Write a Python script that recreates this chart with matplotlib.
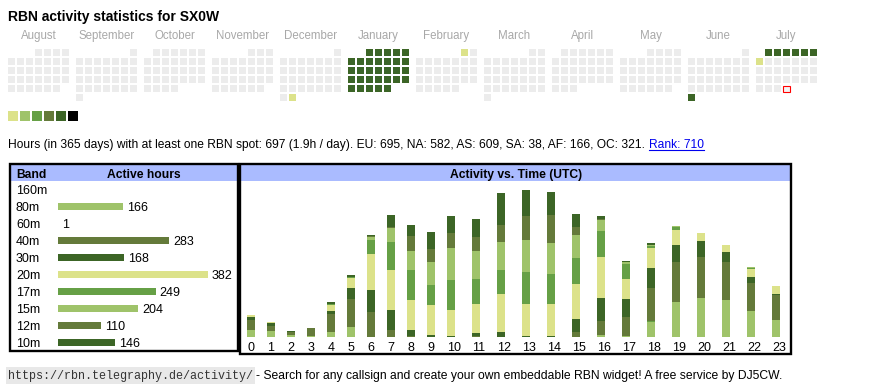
import numpy as np
import pandas as pd
import matplotlib.pyplot as plt
from matplotlib.patches import Rectangle

plt.rcParams['font.family'] = ['Liberation Sans', 'DejaVu Sans']

# ---- data ----
callsign = "SX0W"
months = ["August", "September", "October", "November", "December", "January",
          "February", "March", "April", "May", "June", "July"]
first_day = "2024-08-01"
last_day = "2025-07-31"
today = "2025-07-31"
level1_days = ["2024-12-31", "2025-02-01", "2025-07-07"]
level5_spans = [("2025-01-01", "2025-01-31"), ("2025-06-30", "2025-07-06")]

level_colors = ['#dce28a', '#9fc36a', '#66a046', '#647a3a', '#3c6526', '#000000']
empty_color = '#ececec'

total_hours = 697
per_day = 1.9
continents = [("EU", 695), ("NA", 582), ("AS", 609), ("SA", 38), ("AF", 166), ("OC", 321)]
rank = 710

bands = ["160m", "80m", "60m", "40m", "30m", "20m", "17m", "15m", "12m", "10m"]
band_hours = [0, 166, 1, 283, 168, 382, 249, 204, 110, 146]
band_colors = ['#dce28a', '#9fc36a', '#66a046', '#647a3a', '#3c6526',
               '#dce28a', '#66a046', '#9fc36a', '#647a3a', '#3c6526']

hours = list(range(24))
by_hour = {
    "160m": [0, 0, 0, 0, 0, 0, 0, 0, 0, 0, 0, 0, 0, 0, 0, 0, 0, 0, 0, 0, 0, 0, 0, 0],
    "80m":  [6, 5, 2, 1, 4, 8, 0, 0, 0, 0, 0, 0, 0, 0, 0, 0, 2, 1, 12, 28, 32, 30, 21, 14],
    "60m":  [0, 0, 0, 0, 0, 0, 0, 0, 0, 0, 0, 0, 0, 0, 0, 0, 0, 0, 1, 0, 0, 0, 0, 0],
    "40m":  [8, 4, 2, 6, 15, 23, 20, 6, 1, 0, 0, 1, 0, 0, 0, 4, 11, 15, 27, 33, 33, 31, 23, 20],
    "30m":  [2, 2, 1, 0, 2, 9, 18, 16, 5, 2, 1, 2, 4, 1, 1, 11, 19, 15, 16, 14, 13, 8, 5, 1],
    "20m":  [2, 1, 0, 0, 5, 8, 29, 32, 24, 24, 21, 24, 31, 26, 26, 28, 33, 16, 16, 12, 6, 6, 6, 6],
    "17m":  [0, 0, 0, 0, 1, 1, 12, 23, 24, 16, 24, 20, 19, 26, 24, 21, 21, 12, 2, 2, 0, 0, 1, 0],
    "15m":  [0, 0, 0, 0, 0, 0, 2, 11, 16, 19, 26, 23, 23, 26, 25, 19, 9, 2, 1, 1, 0, 0, 1, 0],
    "12m":  [0, 0, 0, 0, 0, 0, 1, 1, 12, 10, 12, 11, 14, 19, 23, 6, 1, 0, 0, 0, 0, 0, 0, 0],
    "10m":  [0, 0, 0, 0, 1, 1, 1, 10, 9, 14, 14, 15, 26, 21, 19, 11, 2, 1, 1, 0, 0, 0, 0, 0],
}

# ---- figure, pixel overlay ----
W, H = 870, 390
fig = plt.figure(figsize=(W / 100, H / 100), dpi=100)
ax0 = fig.add_axes([0, 0, 1, 1])
ax0.set_xlim(0, W)
ax0.set_ylim(H, 0)
ax0.axis('off')

def frac(x0, y0, x1, y1):
    return [x0 / W, 1 - y1 / H, (x1 - x0) / W, (y1 - y0) / H]

ax0.text(8, 20.7, "RBN activity statistics for " + callsign, fontsize=10,
         fontweight='bold', va='baseline')

# calendar
days = pd.date_range(first_day, last_day)
level = pd.Series(0, index=days)
for d in level1_days:
    level[pd.Timestamp(d)] = 1
for a, b in level5_spans:
    level[a:b] = 5
start = pd.Timestamp(first_day)
for i, name in enumerate(months):
    ax0.text(8 + i * 68 + 30.5, 38.7, name, fontsize=8.3, color='#a8a8a8',
             ha='center', va='baseline')
for d, lv in level.items():
    m = (d.year - start.year) * 12 + d.month - start.month
    first_wd = d.replace(day=1).weekday()
    row = (d.day - 1 + first_wd) // 7
    x = 8 + m * 68 + d.weekday() * 9
    y = 49 + row * 9
    if d == pd.Timestamp(today):
        ax0.add_patch(Rectangle((x + 0.5, y + 0.5), 6.5, 6.5, facecolor='#f4f4f4',
                                edgecolor='red', lw=0.8))
        continue
    c = empty_color if lv == 0 else level_colors[lv - 1]
    ax0.add_patch(Rectangle((x, y), 7, 7, facecolor=c, edgecolor='none'))
for i, c in enumerate(level_colors):
    ax0.add_patch(Rectangle((8 + i * 12, 111), 10, 10, facecolor=c, edgecolor='none'))

# summary line
cont = ", ".join(f"{k}: {v}" for k, v in continents)
info = ax0.text(8, 148, f"Hours (in 365 days) with at least one RBN spot: {total_hours} "
                f"({per_day}h / day). {cont}.", fontsize=8.65, va='baseline')

# boxes and headers
hdr = '#aabbff'
ax0.add_patch(Rectangle((11, 165), 226, 16, facecolor=hdr, edgecolor='none'))
ax0.add_patch(Rectangle((241, 165), 549, 16, facecolor=hdr, edgecolor='none'))
ax0.add_patch(Rectangle((9.7, 163.8), 228.1, 187.2, fill=False, lw=1.7, edgecolor='black'))
ax0.add_patch(Rectangle((240, 163.8), 551.3, 190, fill=False, lw=1.7, edgecolor='black'))
ax0.text(16, 173.5, "Band", fontsize=8.7, fontweight='bold', va='center_baseline')
ax0.text(144, 173.5, "Active hours", fontsize=8.7, fontweight='bold', ha='center',
         va='center_baseline')
ax0.text(516, 173.5, "Activity vs. Time (UTC)", fontsize=8.7, fontweight='bold',
         ha='center', va='center_baseline')

# band table
axb = fig.add_axes(frac(58, 181, 236, 351))
axb.set_facecolor('none')
px_per_h = 150 / 382
axb.set_xlim(0, 178 / px_per_h)
axb.set_ylim(len(bands) - 0.5, -0.5)
axb.axis('off')
yb = np.arange(len(bands))
axb.barh(yb, band_hours, height=7.3 / 17, color=band_colors, left=0)
for i, (b, v) in enumerate(zip(bands, band_hours)):
    axb.text(-42 / 178, i, b, transform=axb.get_yaxis_transform(), fontsize=9,
             va='center_baseline', ha='left')
    if v > 0:
        axb.text(v + 4 / px_per_h, i, str(v), fontsize=9, va='center_baseline', ha='left')

# activity vs time
px_per_hr = 1.233
axt = fig.add_axes(frac(243, 181, 790, 337))
axt.set_facecolor('none')
axt.set_xlim(243, 790)
axt.set_ylim(0, 156 / px_per_hr)
col_w = [20 if h < 10 else 25 for h in hours]
bar_left = 246.7 + np.concatenate([[0], np.cumsum(col_w)[:-1]])
bottom = np.zeros(len(hours))
for b, c in zip(bands, band_colors):
    v = np.array(by_hour[b])
    axt.bar(bar_left, v, width=8.3, bottom=bottom, align='edge', color=c, lw=0)
    bottom += v
axt.set_xticks(bar_left + 0.5, [str(h) for h in hours])
for lab in axt.get_xticklabels():
    lab.set_horizontalalignment('left')
axt.tick_params(axis='x', length=0, pad=3.8, labelsize=9)
axt.set_yticks([])
for s in axt.spines.values():
    s.set_visible(False)

# link parts need text extents
fig.canvas.draw()
r = fig.canvas.get_renderer()
bb = info.get_window_extent(r)
rk = ax0.text(bb.x1 + 4, 148, f"Rank: {rank}", fontsize=8.65, va='baseline', color='#0000ee')
fig.canvas.draw()
bb2 = rk.get_window_extent(r)
ax0.plot([bb2.x0, bb2.x1], [149.5, 149.5], color='#0000ee', lw=0.8)

url = ax0.text(8, 374, "https://rbn.telegraphy.de/activity/", family='Liberation Mono',
               fontsize=8.5, color='#333333', va='center_baseline',
               bbox=dict(facecolor='#e8e8e8', edgecolor='none', pad=1.5))
fig.canvas.draw()
bb3 = url.get_window_extent(r)
ax0.text(bb3.x1 + 3, 374, "- Search for any callsign and create your own embeddable RBN "
         "widget! A free service by DJ5CW.", fontsize=8.7, va='center_baseline')

fig.savefig("out.png", dpi=100)
